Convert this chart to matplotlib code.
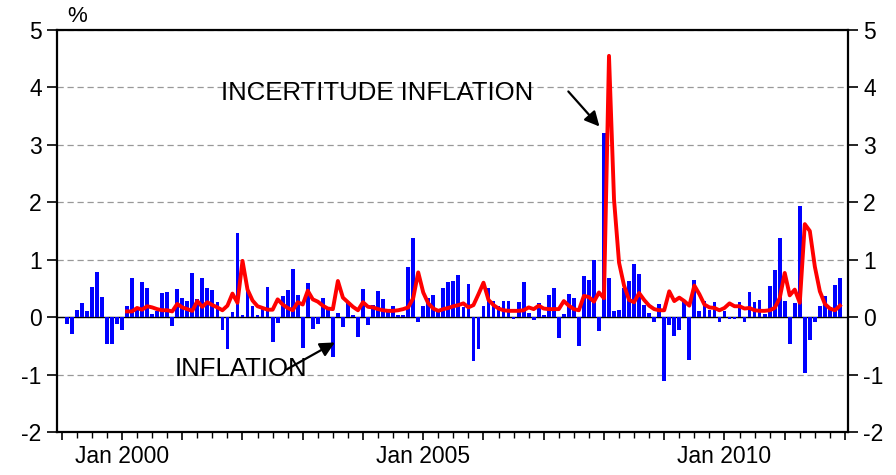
import pandas as pd
import matplotlib.pyplot as plt
from matplotlib.ticker import MultipleLocator, FuncFormatter

plt.rcParams['font.family'] = ['Liberation Sans', 'DejaVu Sans']
plt.rcParams['axes.unicode_minus'] = False

# monthly inflation (%), Feb 1999 - Dec 2011
inflation_start = '1999-02'
inflation = [
    -0.12, -0.29, 0.13, 0.25, 0.10, 0.53, 0.79, 0.35, -0.47, -0.46, -0.12,
    -0.23, 0.20, 0.68, 0.18, 0.62, 0.51, 0.05, 0.10, 0.42, 0.43, -0.16,
    0.49, 0.33, 0.28, 0.77, 0.32, 0.68, 0.51, 0.47, 0.27, -0.23, -0.55,
    0.09, 1.47, 0.03, 0.45, 0.20, 0.03, 0.18, 0.53, -0.43, -0.11, 0.36,
    0.48, 0.83, 0.39, -0.54, 0.59, -0.21, -0.12, 0.33, 0.15, -0.69, 0.08,
    -0.17, 0.26, 0.03, -0.35, 0.49, -0.13, 0.22, 0.46, 0.31, 0.14, 0.20,
    0.04, 0.04, 0.87, 1.37, -0.09, 0.19, 0.33, 0.38, 0.12, 0.51, 0.61,
    0.63, 0.73, 0.17, 0.58, -0.77, -0.56, 0.19, 0.50, 0.28, 0.20, 0.29,
    0.28, -0.03, 0.26, 0.62, 0.07, -0.05, 0.24, 0.03, 0.38, 0.50, -0.37,
    0.05, 0.41, 0.34, -0.50, 0.72, 0.65, 1.00, -0.24, 3.20, 0.68, 0.10,
    0.12, 0.50, 0.63, 0.92, 0.75, 0.21, 0.08, -0.09, 0.23, -1.11, -0.13,
    -0.33, -0.22, 0.29, -0.75, 0.65, 0.10, 0.28, 0.12, 0.27, -0.09, 0.10,
    -0.03, -0.03, 0.26, -0.08, 0.44, 0.26, 0.30, 0.06, 0.55, 0.82, 1.38,
    0.28, -0.46, 0.25, 1.94, -0.97, -0.40, -0.08, 0.19, 0.37, 0.17, 0.56,
    0.68,
]

# inflation uncertainty, Feb 2000 - Dec 2011
uncertainty_start = '2000-02'
uncertainty = [
    0.10, 0.10, 0.16, 0.13, 0.19, 0.17, 0.14, 0.12, 0.12, 0.10, 0.23,
    0.17, 0.14, 0.11, 0.28, 0.18, 0.26, 0.21, 0.17, 0.12, 0.20, 0.41,
    0.25, 0.98, 0.48, 0.29, 0.19, 0.16, 0.13, 0.13, 0.31, 0.22, 0.16,
    0.12, 0.26, 0.22, 0.46, 0.31, 0.27, 0.20, 0.15, 0.14, 0.63, 0.34,
    0.26, 0.18, 0.12, 0.26, 0.18, 0.17, 0.14, 0.12, 0.11, 0.11, 0.12,
    0.14, 0.17, 0.33, 0.78, 0.43, 0.24, 0.15, 0.11, 0.14, 0.16, 0.19,
    0.21, 0.24, 0.17, 0.21, 0.40, 0.60, 0.30, 0.21, 0.15, 0.12, 0.11,
    0.11, 0.11, 0.12, 0.17, 0.14, 0.20, 0.15, 0.14, 0.14, 0.14, 0.28,
    0.20, 0.14, 0.12, 0.37, 0.35, 0.27, 0.43, 0.33, 4.55, 2.05, 0.95,
    0.55, 0.30, 0.26, 0.42, 0.30, 0.20, 0.14, 0.12, 0.12, 0.45, 0.28,
    0.34, 0.28, 0.20, 0.55, 0.40, 0.22, 0.17, 0.16, 0.12, 0.16, 0.24,
    0.19, 0.19, 0.15, 0.16, 0.12, 0.11, 0.11, 0.12, 0.16, 0.33, 0.77,
    0.38, 0.48, 0.25, 1.62, 1.50, 0.88, 0.45, 0.23, 0.15, 0.12, 0.20,
]

year_labels = ['Jan 2000', 'Jan 2005', 'Jan 2010']
base_year = 1999


def month_index(start, n):
    months = pd.period_range(start, periods=n, freq='M')
    return (months.year - base_year) * 12 + months.month - 1


x_inf = month_index(inflation_start, len(inflation))
x_unc = month_index(uncertainty_start, len(uncertainty))

fig = plt.figure(figsize=(8.96, 4.75), dpi=100)
ax = fig.add_axes([0.0636, 0.0905, 0.8828, 0.8463])

ax.grid(axis='y', color='#999999', linestyle=(0, (5, 3)), linewidth=0.9)
ax.axhline(0, color='black', linewidth=1.0, zorder=2)
ax.bar(x_inf, inflation, width=0.75, color='#0000ff', zorder=3)
ax.plot(x_unc, uncertainty, color='#ff0000', linewidth=2.8, zorder=4)

ax.set_xlim(-0.95, 156.6)
ax.set_ylim(-2, 5)
ax.set_yticks(range(-2, 6))

ax.xaxis.set_major_locator(MultipleLocator(12))
ax.xaxis.set_minor_locator(MultipleLocator(3))


def fmt_year(v, pos):
    label = 'Jan %d' % (base_year + round(v / 12))
    return label if label in year_labels else ''


ax.xaxis.set_major_formatter(FuncFormatter(fmt_year))

for side in ['left', 'right', 'top', 'bottom']:
    ax.spines[side].set_linewidth(1.6)

ax.tick_params(axis='y', which='both', left=True, right=True,
               labelleft=True, labelright=True, direction='out',
               length=7, width=1.2, labelsize=16.5, pad=4)
ax.tick_params(axis='x', which='major', direction='out', length=6,
               width=1.2, labelsize=16.5, pad=3)
ax.tick_params(axis='x', which='minor', direction='out', length=4, width=1.0)

fig.text(0.075, 0.965, '%', fontsize=16, ha='left', va='center')

ax.text(62.9, 3.91, 'INCERTITUDE INFLATION', fontsize=18.5,
        ha='center', va='center')
ax.annotate('', xy=(107.1, 3.32), xytext=(100.9, 3.93),
            arrowprops=dict(arrowstyle='-|>', color='black', lw=1.6,
                            mutation_scale=22, shrinkA=0, shrinkB=0))

ax.text(35.7, -0.90, 'INFLATION', fontsize=18.5, ha='center', va='center')
ax.annotate('', xy=(54.4, -0.44), xytext=(44.8, -0.91),
            arrowprops=dict(arrowstyle='-|>', color='black', lw=1.6,
                            mutation_scale=22, shrinkA=0, shrinkB=0))

fig.savefig('out.png', dpi=100)
